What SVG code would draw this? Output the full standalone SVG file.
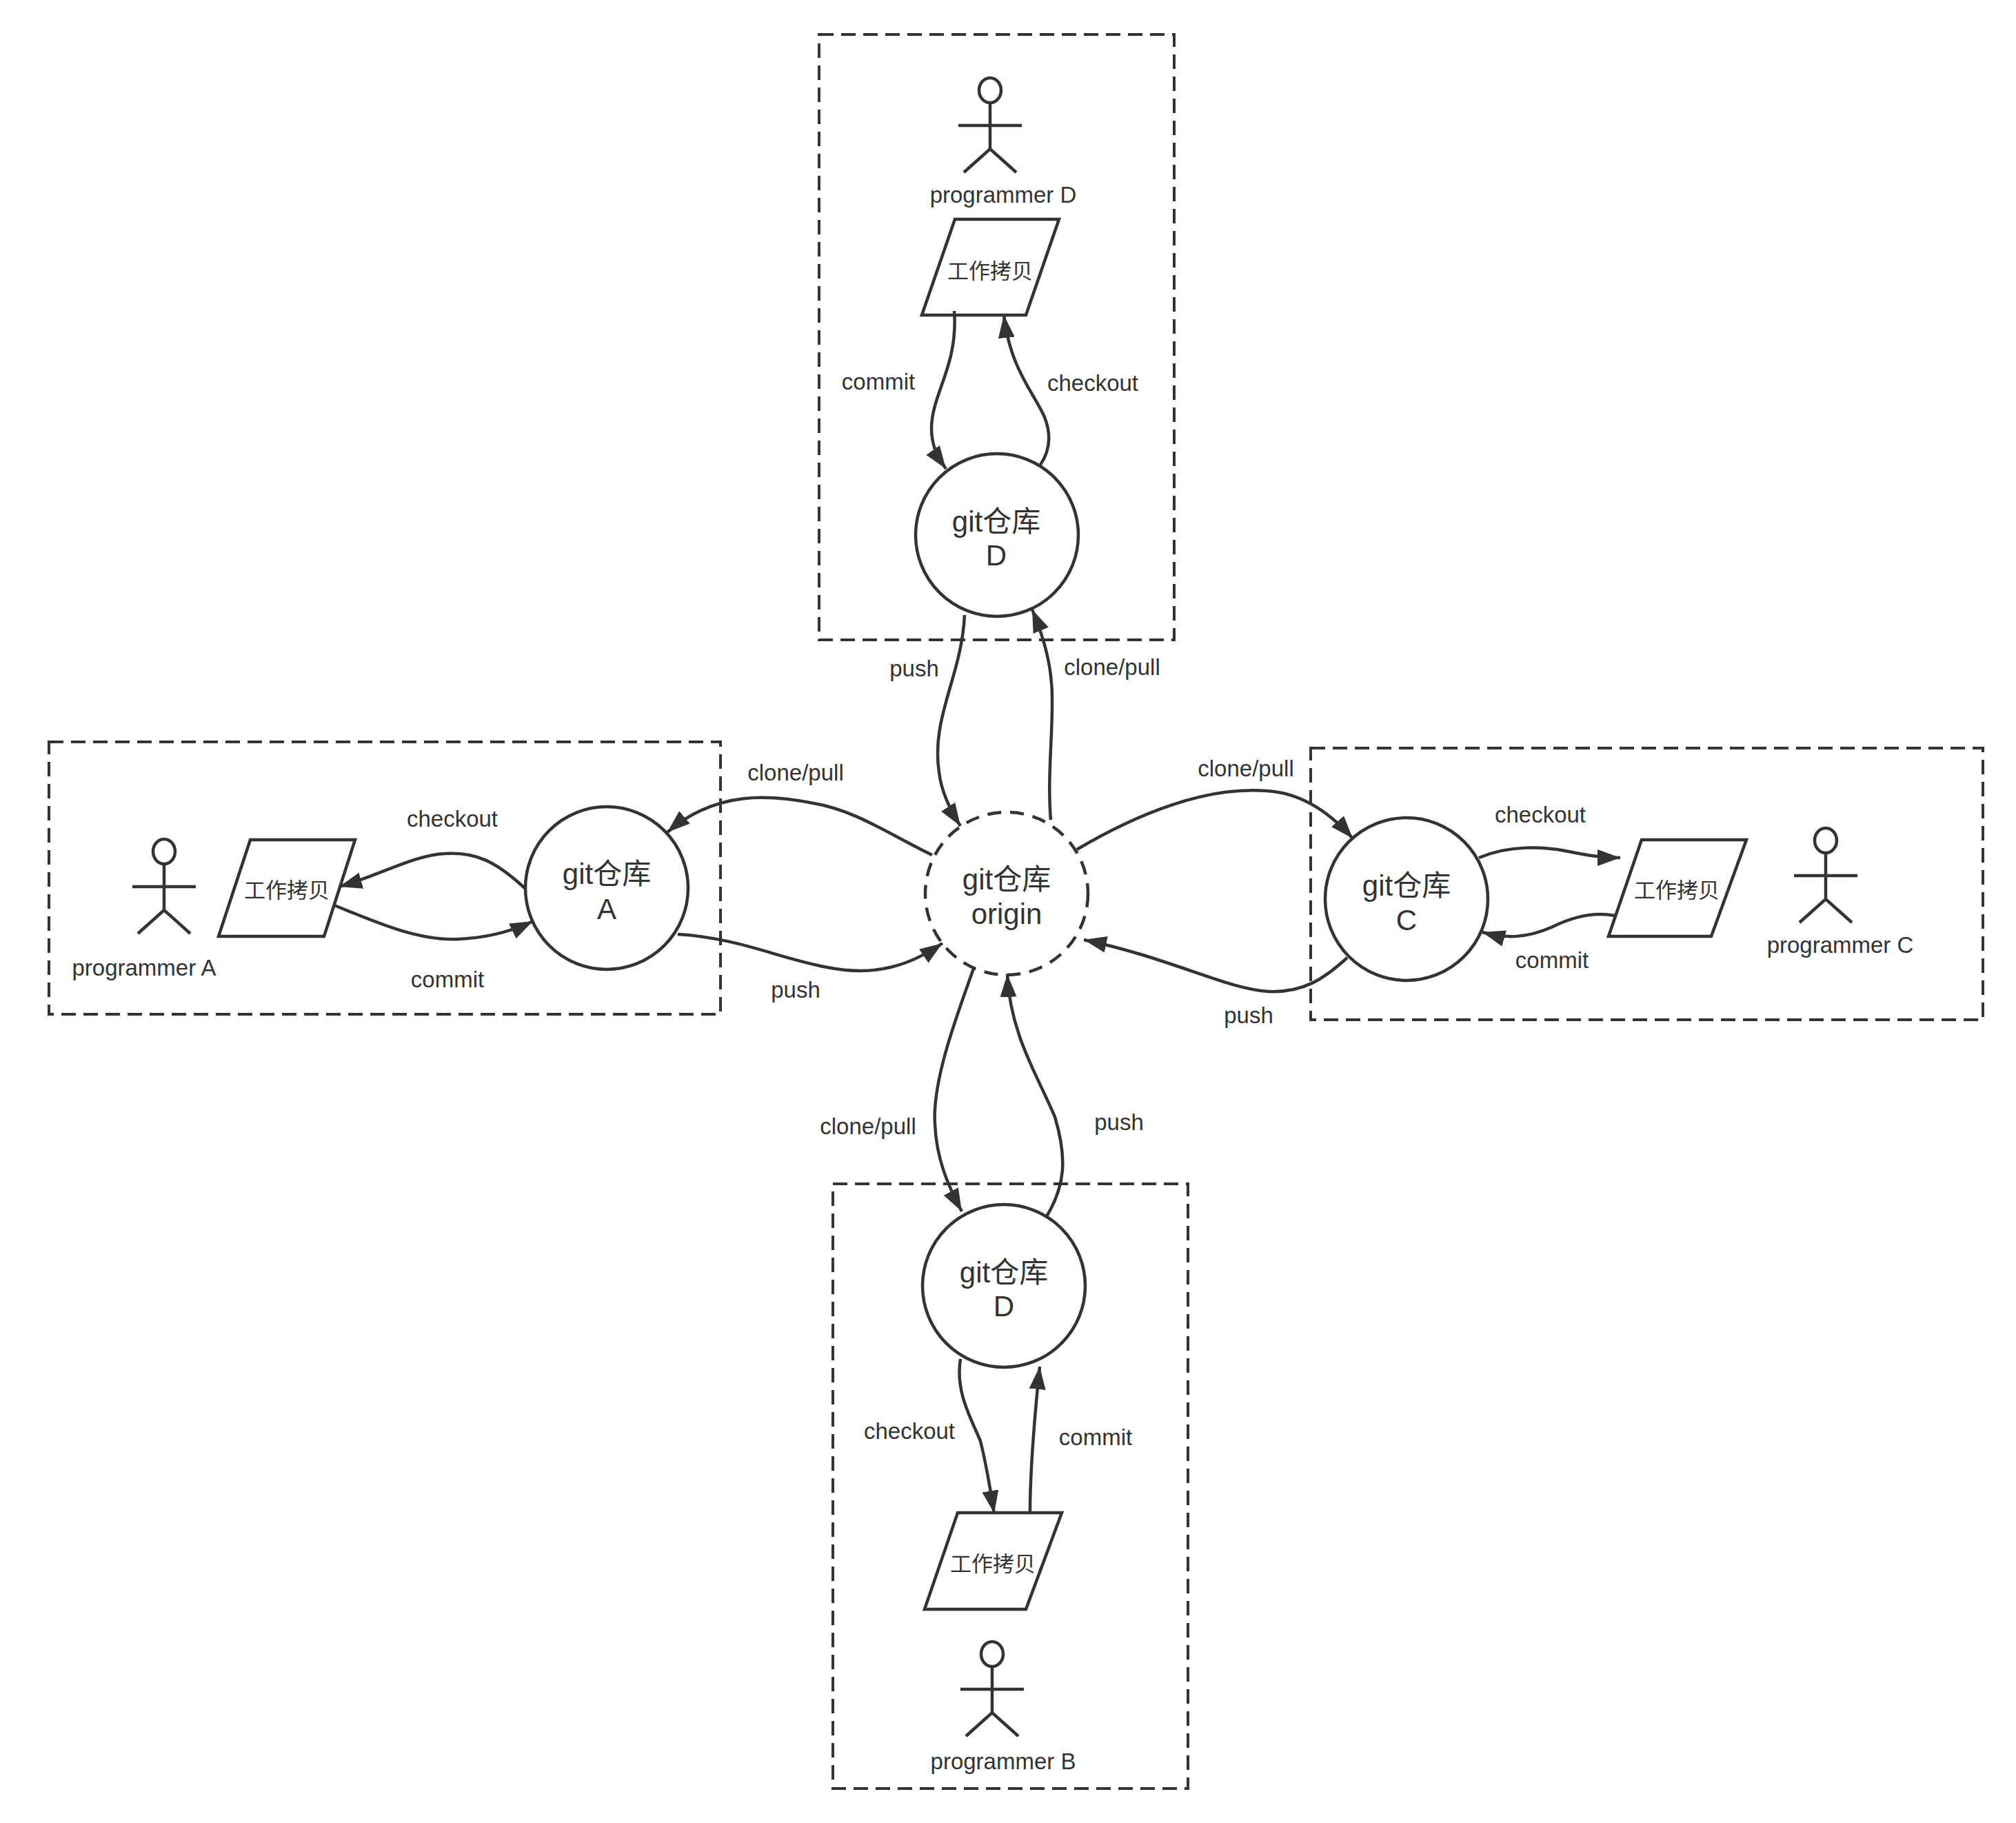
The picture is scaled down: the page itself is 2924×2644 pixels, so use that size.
<svg xmlns="http://www.w3.org/2000/svg" xmlns:xlink="http://www.w3.org/1999/xlink" width="2924" height="2644" viewBox="0 0 2924 2644">
<style>
text{font-family:"Liberation Sans","Noto Sans CJK SC",sans-serif;font-size:33px;fill:#333;text-anchor:middle}
.big{font-size:42px}
.cn{font-size:31px}
.box{fill:none;stroke:#333;stroke-width:4;stroke-dasharray:21 11}
.node{fill:#fff;stroke:#333;stroke-width:4.5}
.dash{stroke-dasharray:20 13}
.man{fill:none;stroke:#333;stroke-width:4.5}
.c{fill:none;stroke:#333;stroke-width:4.5}
.a{marker-end:url(#arrow)}
</style>
<defs>
<marker id="arrow" markerUnits="userSpaceOnUse" markerWidth="36" markerHeight="26" refX="33" refY="12" orient="auto"><path d="M0 0L33 12L0 24Z" fill="#333"/></marker>
<g id="man"><ellipse rx="16" ry="18" class="man"/><path class="man" d="M0 18V85M-46 51H46M-38 119L0 85L38 119"/></g>
</defs>
<rect width="2924" height="2644" fill="#fff"/>
<g id="boxes">
<rect class="box" x="1188" y="50" width="515" height="878"/>
<rect class="box" x="71" y="1076" width="974" height="395"/>
<rect class="box" x="1901" y="1085" width="975" height="394"/>
<rect class="box" x="1208" y="1717" width="515" height="877"/>
</g>
<g id="node-origin"><circle class="node dash" cx="1460" cy="1296" r="118"/><text class="big" x="1460" y="1290">git仓库</text><text class="big" x="1460" y="1340">origin</text></g>
<g id="node-repo-d-top"><circle class="node" cx="1446" cy="776" r="118"/><text class="big" x="1445" y="771">git仓库</text><text class="big" x="1445" y="820">D</text></g>
<g id="node-repo-a"><circle class="node" cx="880" cy="1288" r="118"/><text class="big" x="880" y="1282">git仓库</text><text class="big" x="880" y="1333">A</text></g>
<g id="node-repo-c"><circle class="node" cx="2040" cy="1304" r="118"/><text class="big" x="2040" y="1299">git仓库</text><text class="big" x="2040" y="1349">C</text></g>
<g id="node-repo-d-bottom"><circle class="node" cx="1456" cy="1865" r="118"/><text class="big" x="1456" y="1860">git仓库</text><text class="big" x="1456" y="1909">D</text></g>
<g id="node-copy-d"><path class="node" d="M1385 318H1536L1488 457H1337Z"/><text class="cn" x="1436" y="404">工作拷贝</text></g>
<g id="node-copy-a"><path class="node" d="M363 1218H515L470 1358H317Z"/><text class="cn" x="416" y="1302">工作拷贝</text></g>
<g id="node-copy-c"><path class="node" d="M2381 1218H2533L2482 1358H2333Z"/><text class="cn" x="2432" y="1302">工作拷贝</text></g>
<g id="node-copy-b"><path class="node" d="M1389 2194H1540L1488 2334H1341Z"/><text class="cn" x="1440" y="2279">工作拷贝</text></g>
<g id="node-programmer-d"><use xlink:href="#man" href="#man" x="1436" y="131"/><text x="1455" y="294">programmer D</text></g>
<g id="node-programmer-a"><use xlink:href="#man" href="#man" x="238" y="1235"/><text x="209" y="1415">programmer A</text></g>
<g id="node-programmer-c"><use xlink:href="#man" href="#man" x="2648" y="1219"/><text x="2669" y="1382">programmer C</text></g>
<g id="node-programmer-b"><use xlink:href="#man" href="#man" x="1439" y="2399"/><text x="1455" y="2566">programmer B</text></g>
<g id="connectors">
<path class="c a" d="M1384 451C1390 530 1352 570 1351 620C1351 645 1358 660 1372 680"/>
<path class="c a" d="M1509 674C1522 655 1526 633 1515 605C1500 570 1465 535 1456 457"/>
<path class="c a" d="M1399 892C1395 980 1350 1040 1362 1120C1365 1145 1375 1170 1393 1198"/>
<path class="c a" d="M1524 1189C1518 1120 1530 1040 1525 990C1522 950 1510 915 1497 884"/>
<path class="c a" d="M1352 1240C1290 1210 1240 1175 1180 1165C1120 1153 1040 1145 968 1207"/>
<path class="c a" d="M983 1355C1070 1360 1130 1390 1200 1403C1270 1417 1320 1400 1367 1368"/>
<path class="c a" d="M761 1288C720 1250 690 1235 646 1238C600 1240 550 1270 492 1286"/>
<path class="c a" d="M485 1313C550 1340 610 1365 666 1362C705 1360 740 1352 773 1336"/>
<path class="c a" d="M1562 1232C1650 1180 1750 1140 1837 1147C1890 1150 1930 1180 1962 1216"/>
<path class="c a" d="M1954 1389C1920 1420 1890 1440 1840 1438C1780 1435 1700 1390 1572 1363"/>
<path class="c a" d="M2145 1244C2190 1225 2240 1228 2270 1234C2300 1240 2320 1244 2350 1244"/>
<path class="c a" d="M2342 1328C2310 1322 2280 1330 2250 1345C2215 1360 2185 1362 2150 1352"/>
<path class="c a" d="M1412 1405C1385 1480 1352 1570 1356 1630C1358 1680 1375 1720 1395 1757"/>
<path class="c a" d="M1518 1764C1545 1720 1548 1680 1530 1620C1505 1560 1465 1500 1461 1413"/>
<path class="c a" d="M1393 1971C1385 2020 1410 2060 1422 2090C1432 2130 1436 2160 1442 2195"/>
<path class="c a" d="M1494 2193C1494 2130 1500 2060 1508 1982"/>
</g>
<g id="labels">
<text x="1274" y="565">commit</text>
<text x="1585" y="567">checkout</text>
<text x="1326" y="981">push</text>
<text x="1613" y="979">clone/pull</text>
<text x="1154" y="1132">clone/pull</text>
<text x="656" y="1199">checkout</text>
<text x="649" y="1432">commit</text>
<text x="1154" y="1447">push</text>
<text x="1807" y="1126">clone/pull</text>
<text x="2234" y="1193">checkout</text>
<text x="2251" y="1404">commit</text>
<text x="1811" y="1484">push</text>
<text x="1259" y="1645">clone/pull</text>
<text x="1623" y="1639">push</text>
<text x="1319" y="2087">checkout</text>
<text x="1589" y="2096">commit</text>
</g>
</svg>
